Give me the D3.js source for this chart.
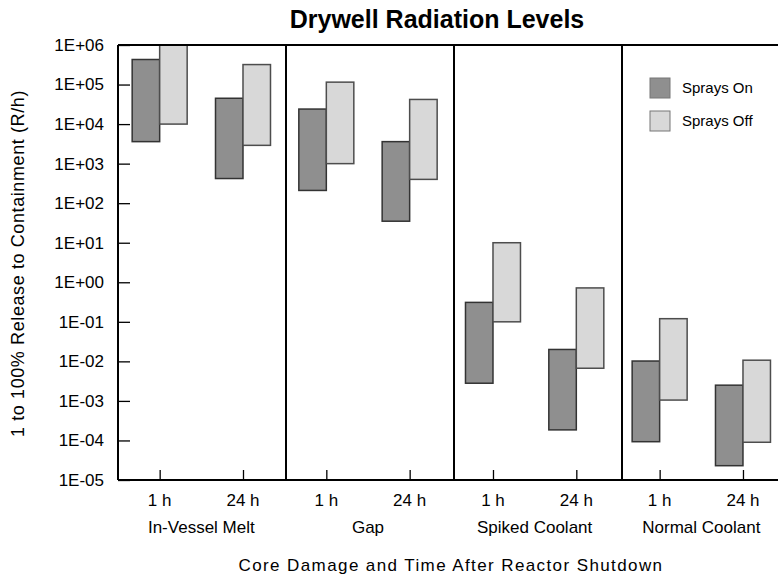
<!DOCTYPE html>
<html>
<head>
<meta charset="utf-8">
<script src="https://cdn.jsdelivr.net/npm/d3@7"></script>
<style>
  html, body { margin: 0; padding: 0; background: #fff; }
  svg { display: block; }
</style>
</head>
<body>
<div id="chart"></div>
<script>
// ── DATA ──────────────────────────────────────────────────────────────────
const groups = ["In-Vessel Melt", "Gap", "Spiked Coolant", "Normal Coolant"];
const times  = ["1 h", "24 h"];
const seriesNames = ["Sprays On", "Sprays Off"];

// one entry per (group, time) slot (R/h)
const onLow   = [3.6e3, 4.2e2, 2.1e2, 35,    2.8e-3, 1.85e-4, 9.3e-5, 2.3e-5];
const onHigh  = [4.3e5, 4.5e4, 2.4e4, 3.6e3, 0.31,   0.020,   0.0102, 2.5e-3];
const offLow  = [1.0e4, 2.9e3, 1.0e3, 4.0e2, 0.10,   6.7e-3,  1.05e-3, 9.0e-5];
const offHigh = [1.0e6, 3.2e5, 1.15e5, 4.2e4, 10,    0.72,    0.12,   0.0107];

const yTicks = [1e-5, 1e-4, 1e-3, 1e-2, 1e-1, 1e0, 1e1, 1e2, 1e3, 1e4, 1e5, 1e6];

(function () {
  const COLORS = {
    "Sprays On":  { fill: "#8f8f8f", stroke: "#333333" },
    "Sprays Off": { fill: "#d8d8d8", stroke: "#4d4d4d" },
  };

  // ── LAYOUT ──────────────────────────────────────────────────────────────
  const totalW = 778, totalH = 577;
  const mLeft = 118, mTop = 45, mBottom = 480;
  const mRight = 790;          // plot runs past the right edge of the picture
  const FONT = "'Liberation Sans', Arial, sans-serif";

  const slots = [];
  groups.forEach(g => times.forEach(t => slots.push({ group: g, time: t })));
  slots.forEach((s, i) => {
    s.key = i;
    s.values = [
      { name: "Sprays On",  lo: onLow[i],  hi: onHigh[i] },
      { name: "Sprays Off", lo: offLow[i], hi: offHigh[i] },
    ];
  });

  // ── SCALES ──────────────────────────────────────────────────────────────
  const xSlot = d3.scaleBand()
    .domain(slots.map(s => s.key))
    .range([mLeft, mLeft + 8 * 83.33]);

  const xSeries = d3.scaleBand()
    .domain(seriesNames)
    .range([xSlot.bandwidth() * 0.17, xSlot.bandwidth() * 0.83]);

  const xGroup = d3.scaleBand()
    .domain(groups)
    .range([mLeft, mRight]);

  const y = d3.scaleLog()
    .domain([1e-5, 1e6])
    .range([mBottom, mTop]);

  // ── SVG ─────────────────────────────────────────────────────────────────
  const svg = d3.select("#chart").append("svg")
    .attr("width", totalW)
    .attr("height", totalH);

  svg.append("rect")
    .attr("width", totalW).attr("height", totalH)
    .attr("fill", "#fff");

  // ── BARS (floating ranges) ──────────────────────────────────────────────
  const slotG = svg.selectAll("g.slot")
    .data(slots)
    .join("g")
    .attr("class", "slot")
    .attr("transform", d => `translate(${xSlot(d.key)},0)`);

  slotG.selectAll("rect")
    .data(d => d.values)
    .join("rect")
    .attr("x", d => xSeries(d.name))
    .attr("width", xSeries.bandwidth())
    .attr("y", d => y(d.hi))
    .attr("height", d => y(d.lo) - y(d.hi))
    .attr("fill", d => COLORS[d.name].fill)
    .attr("stroke", d => COLORS[d.name].stroke)
    .attr("stroke-width", 1.5);

  // ── FRAME + GROUP DIVIDERS ──────────────────────────────────────────────
  const frame = svg.append("g").attr("stroke", "#000").attr("stroke-width", 2);
  frame.append("line").attr("x1", mLeft).attr("x2", mRight).attr("y1", y(1e6)).attr("y2", y(1e6));
  frame.append("line").attr("x1", mLeft).attr("x2", mRight).attr("y1", y(1e-5)).attr("y2", y(1e-5));
  frame.append("line").attr("x1", mLeft).attr("x2", mLeft).attr("y1", y(1e6)).attr("y2", y(1e-5));

  frame.selectAll("line.div")
    .data(groups.slice(1))
    .join("line")
    .attr("class", "div")
    .attr("x1", d => xGroup(d)).attr("x2", d => xGroup(d))
    .attr("y1", y(1e6)).attr("y2", y(1e-5));

  // ── Y AXIS (ticks point inward) ─────────────────────────────────────────
  const yFmt = d => {
    const e = Math.round(Math.log10(d));
    return "1E" + (e >= 0 ? "+" : "-") + String(Math.abs(e)).padStart(2, "0");
  };

  svg.append("g")
    .attr("transform", `translate(${mLeft},0)`)
    .call(d3.axisRight(y).tickValues(yTicks).tickFormat(yFmt).tickSize(12))
    .call(ax => ax.select(".domain").remove())
    .call(ax => ax.selectAll(".tick line").attr("stroke", "#000").attr("stroke-width", 1.3))
    .call(ax => ax.selectAll(".tick text")
      .attr("x", -14)
      .attr("text-anchor", "end")
      .attr("fill", "#000")
      .attr("font-family", FONT)
      .attr("font-size", "17px"));

  // ── X AXIS (ticks point up) ─────────────────────────────────────────────
  const xTick = d3.scalePoint()
    .domain(slots.map(s => s.key))
    .range([xSlot(0) + xSlot.bandwidth() / 2, xSlot(7) + xSlot.bandwidth() / 2]);

  svg.append("g")
    .attr("transform", `translate(0,${mBottom})`)
    .call(d3.axisTop(xTick).tickSize(10).tickFormat(""))
    .call(ax => ax.select(".domain").remove())
    .call(ax => ax.selectAll(".tick line").attr("stroke", "#000").attr("stroke-width", 1.3));

  svg.append("g").selectAll("text")
    .data(slots)
    .join("text")
    .attr("x", d => xTick(d.key))
    .attr("y", 506)
    .attr("text-anchor", "middle")
    .attr("font-family", FONT)
    .attr("font-size", "17px")
    .text(d => d.time);

  svg.append("g").selectAll("text")
    .data(groups)
    .join("text")
    .attr("x", (d, i) => (xTick(2 * i) + xTick(2 * i + 1)) / 2)
    .attr("y", 533)
    .attr("text-anchor", "middle")
    .attr("font-family", FONT)
    .attr("font-size", "17px")
    .text(d => d);

  // ── TITLES ──────────────────────────────────────────────────────────────
  svg.append("text")
    .attr("x", 437).attr("y", 28)
    .attr("text-anchor", "middle")
    .attr("font-family", FONT)
    .attr("font-weight", "bold")
    .attr("font-size", "25px")
    .text("Drywell Radiation Levels");

  svg.append("text")
    .attr("x", 451).attr("y", 571)
    .attr("text-anchor", "middle")
    .attr("font-family", FONT)
    .attr("font-size", "17px")
    .attr("letter-spacing", "1.4px")
    .text("Core Damage and Time After Reactor Shutdown");

  svg.append("text")
    .attr("transform", `translate(24,${(85 + 442) / 2}) rotate(-90)`)
    .attr("text-anchor", "middle")
    .attr("font-family", FONT)
    .attr("font-size", "18px")
    .attr("letter-spacing", "0.6px")
    .text("1 to 100% Release to Containment (R/h)");

  // ── LEGEND ──────────────────────────────────────────────────────────────
  const legend = svg.append("g").attr("transform", "translate(650,78)");
  const li = legend.selectAll("g")
    .data(seriesNames)
    .join("g")
    .attr("transform", (d, i) => `translate(0,${i * 33})`);

  li.append("rect")
    .attr("width", 20).attr("height", 20)
    .attr("fill", d => COLORS[d].fill)
    .attr("stroke", "#777")
    .attr("stroke-width", 1);

  li.append("text")
    .attr("x", 32).attr("y", 15)
    .attr("font-family", FONT)
    .attr("font-size", "15px")
    .text(d => d);
})();
</script>
</body>
</html>
